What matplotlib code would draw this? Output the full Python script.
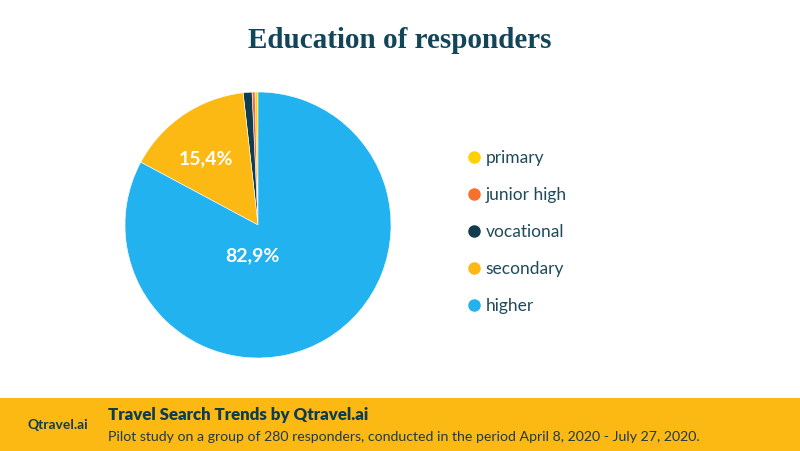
import matplotlib
matplotlib.use('Agg')
import matplotlib.pyplot as plt
from matplotlib.lines import Line2D
from matplotlib.patches import Rectangle

# dados
categorias = ['primary', 'junior high', 'vocational', 'secondary', 'higher']
valores = [0.36, 0.36, 1.07, 15.4, 82.9]
cores = ['#FFD100', '#F7712E', '#0F3D4F', '#FDB913', '#22B2F0']
rotulos = ['15,4%', '82,9%']
rotulo_pos = [(-0.39, 0.50), (-0.04, -0.23)]

titulo = 'Education of responders'
marca = 'Qtravel.ai'
rodape_titulo = 'Travel Search Trends by Qtravel.ai'
rodape_texto = 'Pilot study on a group of 280 responders, conducted in the period April 8, 2020 - July 27, 2020.'

fig = plt.figure(figsize=(8, 4.51), dpi=100)
fig.patch.set_facecolor('white')

ax = fig.add_axes([125/800, 93/451, 266/800, 266/451])
ax.pie(valores, colors=cores, startangle=90, counterclock=True,
       wedgeprops=dict(linewidth=0.4, edgecolor='white'))
ax.set_xlim(-1, 1)
ax.set_ylim(-1, 1)
ax.set_aspect('equal')
ax.axis('off')

for txt, (x, y) in zip(rotulos, rotulo_pos):
    ax.text(x, y, txt, color='white', fontsize=14, fontweight='bold',
            ha='center', va='center', family='Lato')

fig.text(0.5, 1 - 40/451, titulo, ha='center', va='center', fontsize=21,
         fontweight='bold', family='Liberation Serif', color='#124559')

handles = [Line2D([], [], marker='o', linestyle='', markersize=8,
                  markerfacecolor=c, markeredgecolor=c) for c in cores]
leg = fig.legend(handles, categorias, loc='upper left',
                 bbox_to_anchor=(448/800, 1 - 134/451), frameon=False,
                 labelspacing=1.21, handletextpad=0.05, handlelength=1.2,
                 prop={'family': 'Lato', 'size': 12.5})
for t in leg.get_texts():
    t.set_color('#1F4A5C')

fig.patches.append(Rectangle((0, 0), 1, 53/451, transform=fig.transFigure,
                             facecolor='#FDB913', edgecolor='none', zorder=0))
fig.text(27/800, 1 - 425/451, marca, fontsize=10, fontweight='bold',
         family='Lato', color='#0F3D4F', va='center')
fig.text(108/800, 1 - 415/451, rodape_titulo, fontsize=12.2, fontweight='heavy',
         family='Lato', color='#0F3D4F', va='center')
fig.text(108/800, 1 - 437/451, rodape_texto, fontsize=10.2,
         family='Lato', color='#1F3A44', va='center')

fig.savefig('out.png', dpi=100)
